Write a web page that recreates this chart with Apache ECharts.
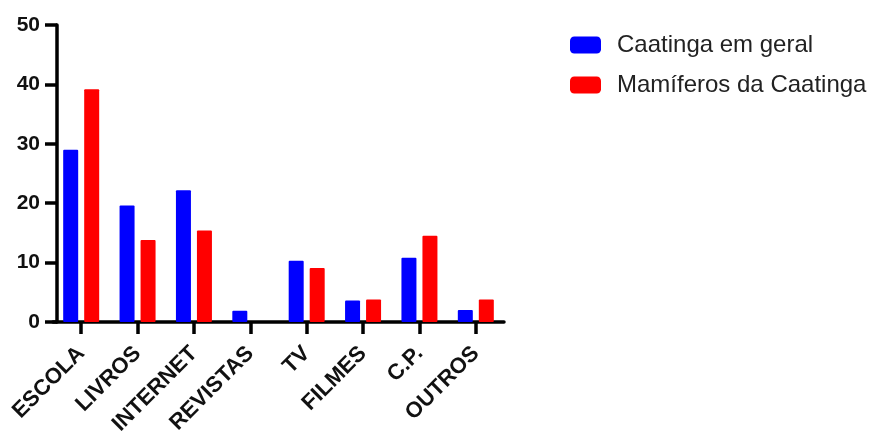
<!DOCTYPE html>
<html>
<head>
<meta charset="utf-8">
<script src="https://cdn.jsdelivr.net/npm/echarts@6/dist/echarts.min.js"></script>
<style>html,body{margin:0;padding:0;background:#fff;}#c{width:875px;height:433px;}</style>
</head>
<body>
<div id="c"></div>
<script>
const categories = ['ESCOLA','LIVROS','INTERNET','REVISTAS','TV','FILMES','C.P.','OUTROS'];
const caatingaGeral = [29.0, 19.6, 22.2, 1.9, 10.3, 3.6, 10.8, 2.0];
const mamiferos = [39.2, 13.8, 15.4, 0, 9.1, 3.8, 14.5, 3.8];
const seriesNames = ['Caatinga em geral', 'Mamíferos da Caatinga'];
const yTicks = {min: 0, max: 50, interval: 10};

const chart = echarts.init(document.getElementById('c'), null, {renderer: 'canvas'});
const font = '"Liberation Sans", Arial, sans-serif';
chart.setOption({
  animation: false,
  grid: {left: 53, right: 371, top: 25, bottom: 111, containLabel: false, outerBoundsMode: 'none'},
  legend: {
    orient: 'vertical', left: 570, top: 33, padding: 0,
    itemWidth: 31, itemHeight: 17, itemGap: 16,
    icon: 'roundRect',
    textStyle: {fontFamily: font, fontSize: 24, color: '#222', padding: [0,0,0,11]},
    data: seriesNames
  },
  xAxis: {
    type: 'category', data: categories, boundaryGap: true,
    axisLine: {lineStyle: {color: '#000', width: 3.5}},
    axisTick: {show: true, alignWithLabel: true, length: 12, lineStyle: {color: '#000', width: 3.5}},
    axisLabel: {rotate: 45, interval: 0, fontFamily: font, fontWeight: 'bold', fontSize: 22, color: '#111', margin: 28}
  },
  yAxis: {
    type: 'value', min: yTicks.min, max: yTicks.max, interval: yTicks.interval,
    offset: -4,
    splitLine: {show: false},
    axisLine: {show: true, lineStyle: {color: '#000', width: 3.5}},
    axisTick: {show: true, length: 12, lineStyle: {color: '#000', width: 3.5}},
    axisLabel: {fontFamily: font, fontWeight: 'bold', fontSize: 21, color: '#111', margin: 17}
  },
  series: [
    {name: seriesNames[0], type: 'bar', data: caatingaGeral, barWidth: 15, barGap: '40%',
     itemStyle: {color: '#0000ff', borderRadius: 1}},
    {name: seriesNames[1], type: 'bar', data: mamiferos, barWidth: 15,
     itemStyle: {color: '#ff0000', borderRadius: 1}}
  ]
});
</script>
</body>
</html>
